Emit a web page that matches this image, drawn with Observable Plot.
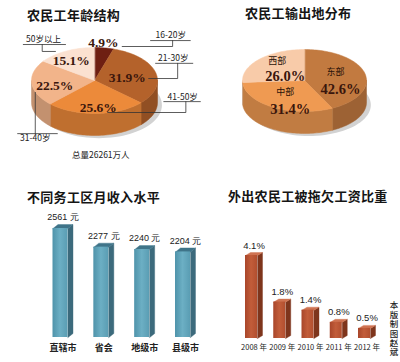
<!DOCTYPE html>
<html><head><meta charset="utf-8">
<script src="https://cdn.jsdelivr.net/npm/d3@7"></script>
<script src="https://cdn.jsdelivr.net/npm/@observablehq/plot@0.6"></script>
<style>
html,body{margin:0;padding:0;background:#fff;}
#root{position:relative;width:400px;height:362px;overflow:hidden;background:#fff;font-family:"Noto Sans CJK SC",sans-serif;}
.title{position:absolute;font-family:"Noto Sans CJK SC";font-weight:700;font-size:13px;line-height:16px;color:#151515;white-space:nowrap;letter-spacing:0.3px;}
.credit{position:absolute;writing-mode:vertical-rl;font-size:8.5px;line-height:9px;letter-spacing:0.9px;color:#222;font-family:"Noto Sans CJK SC";font-weight:500;}
#root svg{position:absolute;overflow:visible;}
</style></head><body><div id="root"></div>
<script>
// ---------------- data ----------------
const ageGroups = ["16-20岁", "21-30岁", "41-50岁", "31-40岁", "50岁以上"];
const ageShares = [4.9, 31.9, 25.6, 22.5, 15.1];
const ageTotalLabel = "总量26261万人";
const regions = ["东部", "中部", "西部"];
const regionShares = [42.6, 31.4, 26.0];
const cityTiers = ["直辖市", "省会", "地级市", "县级市"];
const monthlyIncome = [2561, 2277, 2240, 2204];
const incomeUnit = "元";
const years = ["2008", "2009", "2010", "2011", "2012"];
const arrearsRate = [4.1, 1.8, 1.4, 0.8, 0.5];
const titles = ["农民工年龄结构", "农民工输出地分布", "不同务工区月收入水平", "外出农民工被拖欠工资比重"];
const credit = "本版制图赵斌";

// ---------------- styles / layout ----------------
const ageColors = ["#6e1f12", "#b4622b", "#ec8a3a", "#f2b48a", "#fbe1d0"];
const regionColors = ["#c27a40", "#ef9a52", "#f8cba9"];
const agePctPos = [[0.14, 1.15], [0.52, 0.09], [0.06, -0.82], [-0.63, -0.15], [-0.37, 0.61]];
const ageNamePos = [[1.21, 1.36], [1.25, 0.66], [1.40, -0.5], [-0.94, -1.76], [-0.81, 1.24]];
const ageLeaders = [
  [[[0.44, 1.03], [1.24, 1.03], [1.24, 1.21]], [[0.89, 1.21], [1.52, 1.21]]],
  [[[0.86, 0.06], [1.32, 0.06], [1.32, 0.52]], [[0.97, 0.52], [1.56, 0.52]]],
  [[[0.21, -0.97], [1.45, -0.97], [1.45, -0.64]], [[1.1, -0.64], [1.68, -0.64]]],
  [[[-0.94, -0.36], [-0.94, -1.61]], [[-1.22, -1.61], [-0.59, -1.61]]],
  [[[-0.62, 0.88], [-0.83, 0.88], [-0.83, 1.09]], [[-1.13, 1.09], [-0.46, 1.09]]]
];
const regionNamePos = [[0.50, 0.27], [-0.31, -0.38], [-0.44, 0.62]];
const regionPctPos = [[0.58, -0.29], [-0.23, -0.92], [-0.31, 0.14]];

const root = document.getElementById("root");
function place(el, left, top) { el.style.left = left + "px"; el.style.top = top + "px"; root.appendChild(el); }
function addTitle(text, left, top) { const d = document.createElement("div"); d.className = "title"; d.textContent = text; place(d, left, top); }

function pie3d(values, colors, depth) {
  const arcs = d3.pie().sort(null).value(d => d)(values);
  const marks = [];
  const sh = d3.range(0, 97).map(j => { const t = j / 96 * 2 * Math.PI; return {x: 0.07 + Math.sin(t), y: -depth - 0.08 + Math.cos(t)}; });
  marks.push(Plot.line(sh, {x: "x", y: "y", fill: "#d2d2d2", stroke: "none", curve: "linear-closed"}));
  arcs.forEach((a, i) => {
    const lo = Math.max(a.startAngle, Math.PI / 2), hi = Math.min(a.endAngle, 3 * Math.PI / 2);
    if (hi > lo) {
      const n = Math.max(4, Math.ceil((hi - lo) * 30));
      const pts = d3.range(n + 1).map(j => { const t = lo + (hi - lo) * j / n; return {x: Math.sin(t), y: Math.cos(t)}; });
      const poly = [...pts, ...pts.slice().reverse().map(p => ({x: p.x, y: p.y - depth}))];
      const c = d3.color(colors[i]).darker(0.6).formatHex();
      marks.push(Plot.line(poly, {x: "x", y: "y", fill: c, stroke: c, strokeWidth: 0.5, curve: "linear-closed"}));
    }
  });
  arcs.forEach((a, i) => {
    const n = Math.max(4, Math.ceil((a.endAngle - a.startAngle) * 30));
    const poly = [{x: 0, y: 0}, ...d3.range(n + 1).map(j => { const t = a.startAngle + (a.endAngle - a.startAngle) * j / n; return {x: Math.sin(t), y: Math.cos(t)}; })];
    marks.push(Plot.line(poly, {x: "x", y: "y", fill: colors[i], stroke: colors[i], strokeWidth: 0.5, curve: "linear-closed"}));
  });
  return marks;
}

// ---------------- pie 1: age ----------------
{
  const depth = 22 / 33;
  const pct = ageShares.map((v, i) => ({x: agePctPos[i][0], y: agePctPos[i][1], t: v.toFixed(1) + "%"}));
  const names = ageGroups.map((g, i) => ({x: ageNamePos[i][0], y: ageNamePos[i][1], t: g}));
  const leaders = ageLeaders.flatMap((segs, i) => segs.flatMap((s, j) => s.map(p => ({k: i + "-" + j, x: p[0], y: p[1]}))));
  const svg = Plot.plot({
    width: 200, height: 170, margin: 0,
    x: {domain: [-1, 1], range: [31, 157], axis: null},
    y: {domain: [-1, 1], range: [113, 47], axis: null},
    style: {background: "transparent", overflow: "visible"},
    marks: [
      ...pie3d(ageShares, ageColors, depth),
      Plot.line(leaders, {x: "x", y: "y", z: "k", stroke: "#333", strokeWidth: 0.8}),
      Plot.text(pct, {x: "x", y: "y", text: "t", fontFamily: "Liberation Serif", fontWeight: "bold", fontSize: 13.5, fill: "#3a160c"}),
      Plot.text(names, {x: "x", y: "y", text: "t", fontFamily: "Noto Sans CJK SC", fontSize: 8.5, fill: "#222"}),
      Plot.text([ageTotalLabel], {x: () => 0.1, y: () => -2.27, text: d => d, fontFamily: "Noto Sans CJK SC", fontSize: 8.5, fill: "#222"})
    ]
  });
  place(svg, 0, 0);
}

// ---------------- pie 2: region ----------------
{
  const depth = 22 / 31;
  const pct = regionShares.map((v, i) => ({x: regionPctPos[i][0], y: regionPctPos[i][1], t: v.toFixed(1) + "%"}));
  const names = regions.map((g, i) => ({x: regionNamePos[i][0], y: regionNamePos[i][1], t: g}));
  const svg = Plot.plot({
    width: 200, height: 170, margin: 0,
    x: {domain: [-1, 1], range: [42, 166], axis: null},
    y: {domain: [-1, 1], range: [111, 49], axis: null},
    style: {background: "transparent", overflow: "visible"},
    marks: [
      ...pie3d(regionShares, regionColors, depth),
      Plot.text(pct, {x: "x", y: "y", text: "t", fontFamily: "Liberation Serif", fontWeight: "bold", fontSize: 14.5, fill: "#3a160c"}),
      Plot.text(names, {x: "x", y: "y", text: "t", fontFamily: "Noto Sans CJK SC", fontSize: 9, fill: "#2a1208"})
    ]
  });
  place(svg, 200, 0);
}

// ---------------- 3D bars ----------------
function bars3d(o) {
  const n = o.values.length;
  const pxX = (o.xRange[1] - o.xRange[0]) / (n - 1);
  const pxY = (o.yRange[0] - o.yRange[1]) / (o.yDomain[1] - o.yDomain[0]);
  const hw = o.halfPx / pxX, ox = o.oxPx / pxX, oy = o.oyPx / pxY, base = o.base;
  const rows = o.values.map((v, i) => ({i, v, l: o.labels[i]}));
  const top = rows.flatMap(d => [[d.i - hw, d.v], [d.i - hw + ox, d.v + oy], [d.i + hw + ox, d.v + oy], [d.i + hw, d.v]].map(p => ({k: d.i, x: p[0], y: p[1]})));
  const side = rows.flatMap(d => [[d.i + hw, d.v], [d.i + hw + ox, d.v + oy], [d.i + hw + ox, base + oy], [d.i + hw, base]].map(p => ({k: d.i, x: p[0], y: p[1]})));
  const gid = o.id;
  return Plot.plot({
    width: 200, height: 182, margin: 0,
    x: {domain: [0, n - 1], range: o.xRange, axis: null},
    y: {domain: o.yDomain, range: o.yRange, axis: null},
    style: {background: "transparent", overflow: "visible"},
    marks: [
      () => {
        const defs = d3.create("svg:defs");
        const g = defs.append("linearGradient").attr("id", gid).attr("x1", 0).attr("x2", 1).attr("y1", 0).attr("y2", 0);
        o.grad.forEach((c, j) => g.append("stop").attr("offset", (j / (o.grad.length - 1) * 100) + "%").attr("stop-color", c));
        return defs.node();
      },
      Plot.line(side, {x: "x", y: "y", z: "k", fill: o.side, stroke: o.side, strokeWidth: 0.4, curve: "linear-closed"}),
      Plot.line(top, {x: "x", y: "y", z: "k", fill: o.top, stroke: o.top, strokeWidth: 0.4, curve: "linear-closed"}),
      Plot.rect(rows, {x1: d => d.i - hw, x2: d => d.i + hw, y1: () => base, y2: "v", fill: `url(#${gid})`}),
      Plot.text(rows, {x: d => d.i + ox / 2, y: d => d.v + oy, text: o.valueText, dy: o.valueDy, fontFamily: "Liberation Sans", fontSize: o.valueSize, fill: "#222"}),
      Plot.text(rows, {x: d => d.i + ox / 2, y: () => base, text: o.catText, dy: o.catDy, fontFamily: "Noto Sans CJK SC", fontWeight: o.catWeight, fontSize: o.catSize, fill: "#222"})
    ]
  });
}

place(bars3d({
  id: "gBlue", labels: cityTiers, values: monthlyIncome, base: 900,
  xRange: [60, 182.5], yDomain: [900, 2561], yRange: [157, 48],
  halfPx: 7.5, oxPx: 5, oyPx: 4,
  grad: ["#4f93aa", "#6cafc4", "#5a9db3"], top: "#3f7489", side: "#3c6a7c",
  valueText: d => d.v + " " + incomeUnit, valueDy: -7, valueSize: 9,
  catText: d => d.l, catDy: 11, catSize: 9, catWeight: "bold"
}), 0, 180);

place(bars3d({
  id: "gRust", labels: years, values: arrearsRate, base: 0,
  xRange: [51, 164], yDomain: [0, 4.1], yRange: [158, 75],
  halfPx: 6, oxPx: 5, oyPx: 3,
  grad: ["#a8462a", "#c25d3a", "#b24f2f"], top: "#cf7352", side: "#7e351c",
  valueText: d => d.v.toFixed(1) + "%", valueDy: -7, valueSize: 9.5,
  catText: d => d.l + " 年", catDy: 9, catSize: 7.5, catWeight: "normal"
}), 200, 180);

// ---------------- titles & credit ----------------
addTitle(titles[0], 27, 7);
addTitle(titles[1], 245, 5);
addTitle(titles[2], 27, 189);
addTitle(titles[3], 228, 188);
{
  const c = document.createElement("div");
  c.className = "credit"; c.textContent = credit;
  place(c, 389, 301);
}
</script></body></html>
